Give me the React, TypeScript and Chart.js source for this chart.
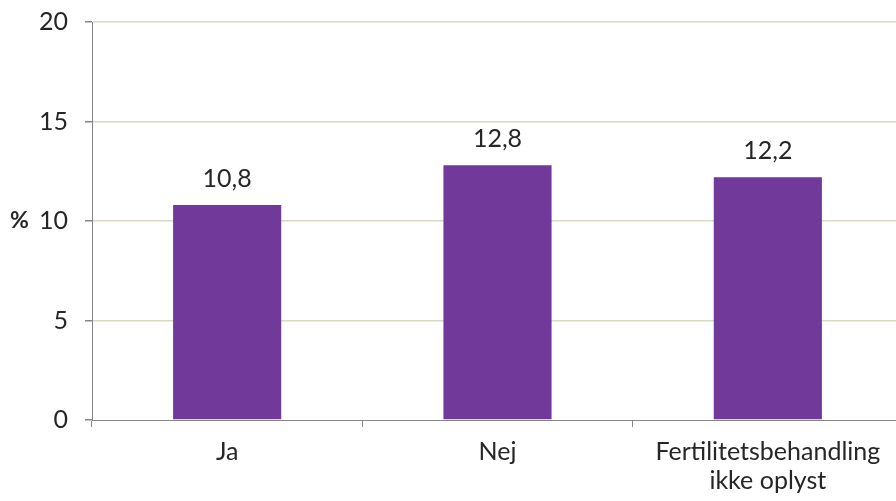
import React, { useEffect, useRef } from "react";
import { Chart, registerables } from "chart.js";

Chart.register(...registerables);

const categories: (string | string[])[] = ["Ja", "Nej", ["Fertilitetsbehandling", "ikke oplyst"]];
const values: number[] = [10.8, 12.8, 12.2];
const valueLabels: string[] = ["10,8", "12,8", "12,2"];
const yTicks: number[] = [0, 5, 10, 15, 20];
const yTitle = "%";

const FONT = "Lato, 'Open Sans', sans-serif";
const TEXT = "#262626";
const AXIS = "#868686";
const GRID = "#DAD7C4";
const BAR = "#70399A";
const FS = 25;

export default function App() {
  const ref = useRef<HTMLCanvasElement | null>(null);
  useEffect(() => {
    if (!ref.current) return;
    const labelPlugin = {
      id: "labels",
      afterDatasetsDraw(chart: any) {
        const ctx = chart.ctx;
        const meta = chart.getDatasetMeta(0);
        ctx.save();
        ctx.font = `${FS}px ${FONT}`;
        ctx.fillStyle = TEXT;
        ctx.textAlign = "center";
        ctx.textBaseline = "alphabetic";
        meta.data.forEach((bar: any, i: number) => {
          ctx.fillText(valueLabels[i], bar.x, bar.y - 18);
        });
        const yScale = chart.scales.y;
        ctx.font = `bold ${FS - 2}px ${FONT}`;
        ctx.textAlign = "left";
        ctx.textBaseline = "middle";
        ctx.fillText(yTitle, 10, yScale.getPixelForValue(10));
        ctx.restore();
      },
    };
    const chart = new Chart(ref.current, {
      type: "bar",
      data: {
        labels: categories,
        datasets: [
          {
            data: values,
            backgroundColor: BAR,
            barPercentage: 0.4,
            categoryPercentage: 1,
          },
        ],
      },
      options: {
        animation: false,
        responsive: false,
        maintainAspectRatio: false,
        layout: { padding: { left: 0, right: 2, top: 10, bottom: 0 } },
        plugins: { legend: { display: false }, tooltip: { enabled: false } },
        scales: {
          x: {
            offset: true,
            grid: {
              offset: true,
              drawOnChartArea: false,
              drawTicks: true,
              tickLength: 7,
              tickColor: AXIS,
              color: AXIS,
            },
            border: { color: AXIS, width: 1 },
            ticks: {
              color: TEXT,
              font: { family: FONT, size: FS, lineHeight: 1.16 },
              padding: 10,
              maxRotation: 0,
              autoSkip: false,
            },
            afterFit: (s: any) => {
              s.height = 81;
            },
          },
          y: {
            min: 0,
            max: 20,
            afterBuildTicks: (s: any) => {
              s.ticks = yTicks.map((v) => ({ value: v }));
            },
            grid: {
              color: (c: any) => (c.tick && c.tick.value === 0 ? "rgba(0,0,0,0)" : GRID),
              tickColor: AXIS,
              tickLength: 7,
              lineWidth: 1.5,
            },
            border: { color: AXIS, width: 1 },
            ticks: {
              color: TEXT,
              font: { family: FONT, size: FS },
              padding: 17,
            },
            afterFit: (s: any) => {
              s.width = 92;
            },
          },
        },
      },
      plugins: [labelPlugin],
    });
    return () => chart.destroy();
  }, []);
  return (
    <div style={{ position: "fixed", left: 0, top: 0, width: 896, height: 501, overflow: "hidden", background: "#fff" }}>
      <canvas
        ref={ref}
        width={905}
        height={511}
        style={{ display: "block", position: "absolute", left: 0, top: -10, width: 905, height: 511 }}
      />
    </div>
  );
}
